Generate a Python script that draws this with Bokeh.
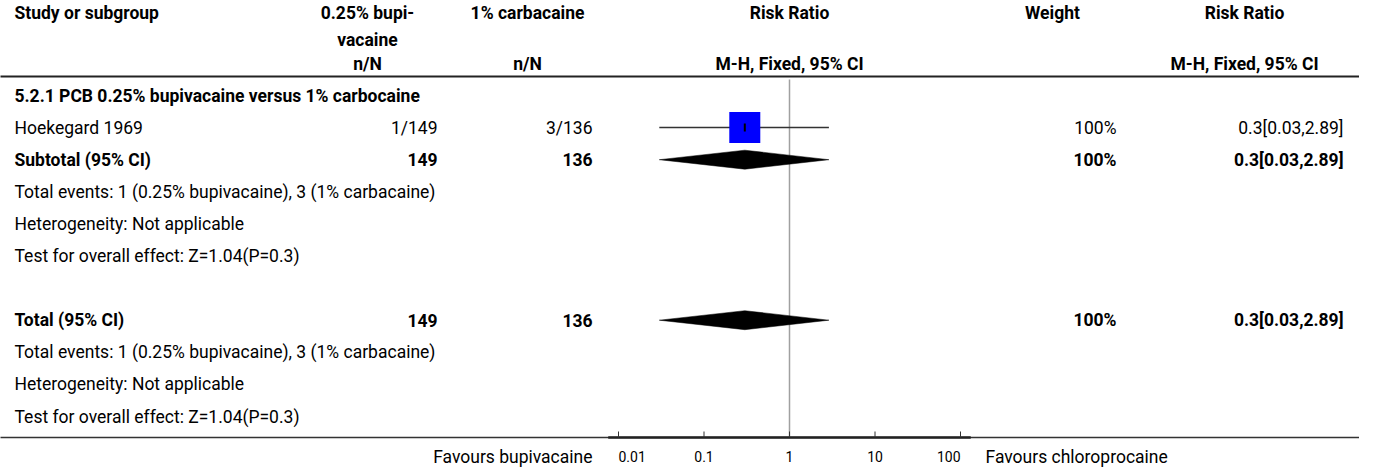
from bokeh.plotting import figure
from bokeh.models import Range1d, LogScale, ColumnDataSource
from bokeh.embed import file_html
from bokeh.resources import INLINE
from bokeh.core.properties import value

# ---------------- data ----------------
header_study = "Study or subgroup"
header_exp = ["0.25% bupi-", "vacaine"]
header_ctl = "1% carbacaine"
header_plot = "Risk Ratio"
header_weight = "Weight"
header_rr = "Risk Ratio"
subheader_n = "n/N"
subheader_method = "M-H, Fixed, 95% CI"

group_title = "5.2.1 PCB 0.25% bupivacaine versus 1% carbocaine"

studies = ["Hoekegard 1969"]
exp_events = [1]
exp_total = [149]
ctl_events = [3]
ctl_total = [136]
study_rr = [0.3]
study_lo = [0.03]
study_hi = [2.89]
study_weight = [100]

subtotal_label = "Subtotal (95% CI)"
subtotal_exp = 149
subtotal_ctl = 136
subtotal_rr = 0.3
subtotal_lo = 0.03
subtotal_hi = 2.89
subtotal_weight = 100
subtotal_notes = [
    "Total events: 1 (0.25% bupivacaine), 3 (1% carbacaine)",
    "Heterogeneity: Not applicable",
    "Test for overall effect: Z=1.04(P=0.3)",
]

total_label = "Total (95% CI)"
total_exp = 149
total_ctl = 136
total_rr = 0.3
total_lo = 0.03
total_hi = 2.89
total_weight = 100
total_notes = [
    "Total events: 1 (0.25% bupivacaine), 3 (1% carbacaine)",
    "Heterogeneity: Not applicable",
    "Test for overall effect: Z=1.04(P=0.3)",
]

axis_ticks = [0.01, 0.1, 1, 10, 100]
axis_tick_labels = ["0.01", "0.1", "1", "10", "100"]
favours_left = "Favours bupivacaine"
favours_right = "Favours chloroprocaine"

# ---------------- layout (page pixels) ----------------
W, H = 1359, 468
LEFT, RIGHT, TOP, BOTTOM = 8, 8 + W, 8, 8 + H
AX_L, AX_R = 626.0, 968.0          # pixel of first / last tick
dec = (AX_R - AX_L) / 4.0
lo_exp = -2 - (AX_L - LEFT) / dec
hi_exp = 2 + (RIGHT - AX_R) / dec

X_TEXT = 22
X_EXP_HDR, X_CTL_HDR = 375, 535
X_EXP, X_CTL = 445, 600
X_WT_HDR, X_WT = 1060, 1124
X_RR_HDR, X_RR = 1252, 1351
X_FAV_L, X_FAV_R = 600, 993

Y_H1, Y_H2, Y_H3 = 20, 47, 71
Y_HLINE = 84
ROW0, STEP = 103, 32.1
Y_AXIS = 445
Y_TICKLAB = 464

FONT = value("Roboto")
FS = "17.5px"

p = figure(width=W, height=H, x_range=Range1d(LEFT, RIGHT), y_range=Range1d(BOTTOM, TOP),
           extra_x_ranges={"rr": Range1d(10 ** lo_exp, 10 ** hi_exp)},
           extra_x_scales={"rr": LogScale()},
           toolbar_location=None, output_backend="svg", min_border=0,
           outline_line_color=None)
p.axis.visible = False
p.grid.visible = False
p.background_fill_color = "white"
p.border_fill_color = "white"


def txt(xs, ys, texts, align="left", bold=False, size=FS, color="#000000", range_name=None):
    src = ColumnDataSource(dict(x=list(xs), y=list(ys), t=list(texts)))
    kw = {}
    if range_name:
        kw["x_range_name"] = range_name
    p.text(x="x", y="y", text="t", source=src, text_font=FONT, text_font_size=size,
           text_align=align, text_baseline="middle",
           text_font_style="bold" if bold else "normal", text_color=color, **kw)


def row_y(k):
    return ROW0 + STEP * k


# header
txt([X_TEXT], [Y_H1], [header_study], bold=True)
txt([X_EXP_HDR, X_EXP_HDR], [Y_H1, Y_H2], header_exp, align="center", bold=True)
txt([X_CTL_HDR], [Y_H1], [header_ctl], align="center", bold=True)
txt([1], [Y_H1], [header_plot], align="center", bold=True, range_name="rr")
txt([X_WT_HDR], [Y_H1], [header_weight], align="center", bold=True)
txt([X_RR_HDR], [Y_H1], [header_rr], align="center", bold=True)
txt([X_EXP_HDR, X_CTL_HDR, X_RR_HDR], [Y_H3] * 3, [subheader_n, subheader_n, subheader_method],
    align="center", bold=True)
txt([1], [Y_H3], [subheader_method], align="center", bold=True, range_name="rr")

# horizontal rules
p.segment(x0=[LEFT - 1], y0=[Y_HLINE], x1=[RIGHT], y1=[Y_HLINE], line_color="#222222", line_width=2)
p.segment(x0=[LEFT - 1], y0=[Y_AXIS], x1=[RIGHT], y1=[Y_AXIS], line_color="#333333", line_width=1.5)

# null line
p.segment(x0=[1], y0=[Y_HLINE + 3], x1=[1], y1=[Y_AXIS], line_color="#a0a0a0", line_width=1.5,
          x_range_name="rr")

# group title
txt([X_TEXT], [row_y(0)], [group_title], bold=True)

# studies
k = 1
sy = [row_y(k + i) for i in range(len(studies))]
txt([X_TEXT] * len(studies), sy, studies)
txt([X_EXP] * len(studies), sy, [f"{e}/{n}" for e, n in zip(exp_events, exp_total)], align="right")
txt([X_CTL] * len(studies), sy, [f"{e}/{n}" for e, n in zip(ctl_events, ctl_total)], align="right")
txt([X_WT] * len(studies), sy, [f"{w:g}%" for w in study_weight], align="right")
txt([X_RR] * len(studies), sy, [f"{r:g}[{l:.2f},{h:.2f}]" for r, l, h in zip(study_rr, study_lo, study_hi)],
    align="right")
p.segment(x0=study_lo, y0=sy, x1=study_hi, y1=sy, line_color="#333333", line_width=1.5, x_range_name="rr")
p.rect(x=study_rr, y=sy, width=31, height=31, width_units="screen", height_units="screen",
       fill_color="#0000ff", line_color=None, x_range_name="rr")
p.segment(x0=study_rr, y0=[y - 4 for y in sy], x1=study_rr, y1=[y + 4 for y in sy],
          line_color="#000000", line_width=2, x_range_name="rr")
k += len(studies)


def summary(krow, label, ne, nc, w, rr, lo, hi, notes):
    y = row_y(krow)
    txt([X_TEXT], [y], [label], bold=True)
    txt([X_EXP, X_CTL], [y, y], [f"{ne}", f"{nc}"], align="right", bold=True)
    txt([X_WT], [y], [f"{w:g}%"], align="right", bold=True)
    txt([X_RR], [y], [f"{rr:g}[{lo:.2f},{hi:.2f}]"], align="right", bold=True)
    hh = 9.5
    p.patch(x=[lo, rr, hi, rr], y=[y, y - hh, y, y + hh], fill_color="#000000", line_color="#000000",
            line_width=0.5, x_range_name="rr")
    ys = [row_y(krow + 1 + i) for i in range(len(notes))]
    txt([X_TEXT] * len(notes), ys, notes)


summary(k, subtotal_label, subtotal_exp, subtotal_ctl, subtotal_weight, subtotal_rr, subtotal_lo,
        subtotal_hi, subtotal_notes)
k += 1 + len(subtotal_notes) + 1
summary(k, total_label, total_exp, total_ctl, total_weight, total_rr, total_lo, total_hi, total_notes)

# axis
p.segment(x0=[10 ** (-2 - 0.12)], y0=[Y_AXIS], x1=[10 ** (2 + 0.12)], y1=[Y_AXIS], line_color="#222222",
          line_width=2.5, x_range_name="rr")
p.segment(x0=axis_ticks, y0=[Y_AXIS] * len(axis_ticks), x1=axis_ticks, y1=[Y_AXIS - 6] * len(axis_ticks),
          line_color="#333333", line_width=1, x_range_name="rr")
aligns = ["left"] + ["center"] * (len(axis_ticks) - 2) + ["right"]
for t, lab, al in zip(axis_ticks, axis_tick_labels, aligns):
    txt([t], [Y_TICKLAB], [lab], align=al, size="14px", range_name="rr")
txt([X_FAV_L], [Y_TICKLAB], [favours_left], align="right")
txt([X_FAV_R], [Y_TICKLAB], [favours_right], align="left")

open("out.html", "w").write(file_html(p, INLINE))
